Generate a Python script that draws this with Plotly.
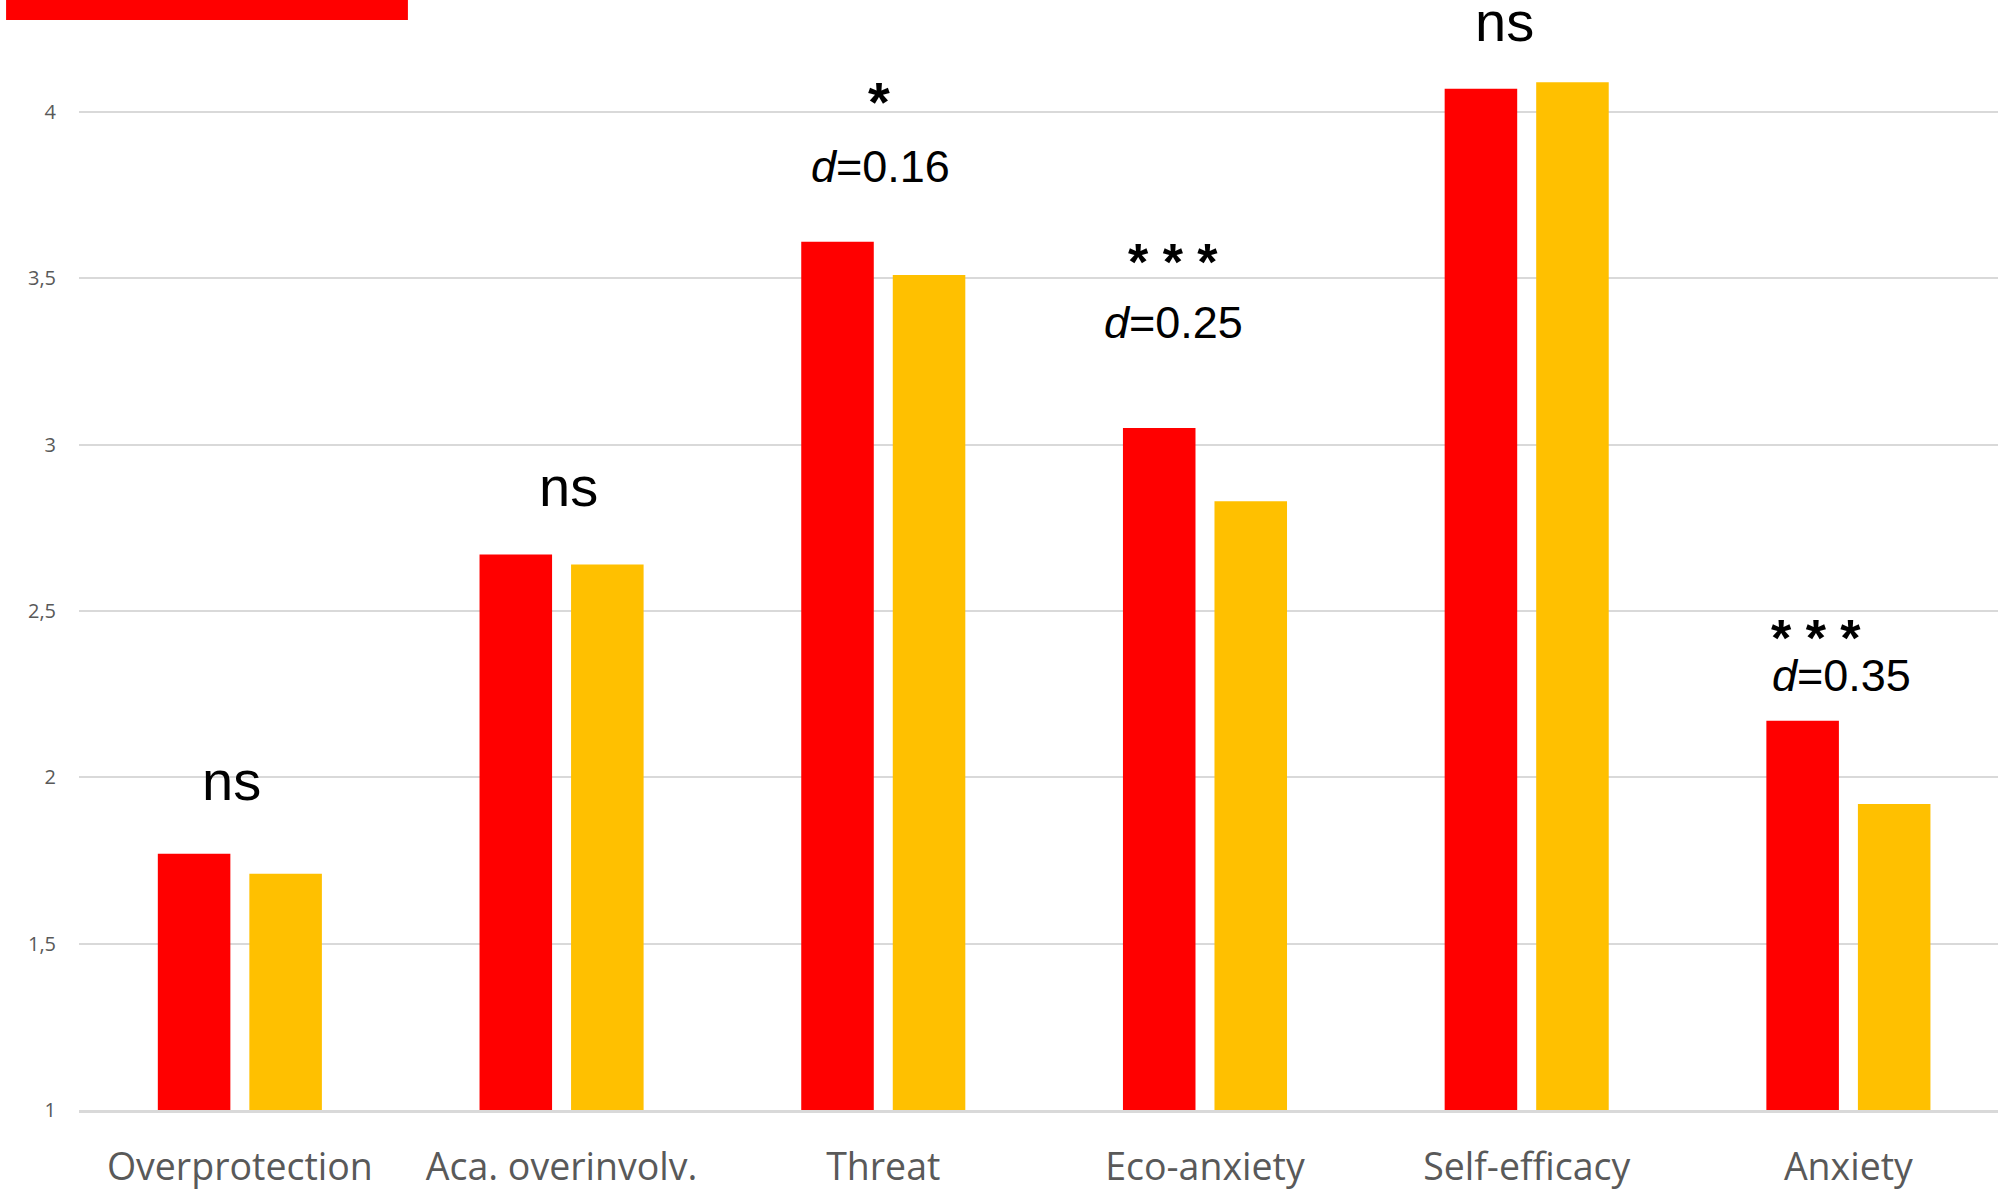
import plotly.graph_objects as go

categories = ["Overprotection", "Aca. overinvolv.", "Threat", "Eco-anxiety", "Self-efficacy", "Anxiety"]
group_a = [1.77, 2.67, 3.61, 3.05, 4.07, 2.17]
group_b = [1.71, 2.64, 3.51, 2.83, 4.09, 1.92]
y_ticks = [1, 1.5, 2, 2.5, 3, 3.5, 4]
y_tick_labels = ["1", "1,5", "2", "2,5", "3", "3,5", "4"]

# significance labels
sig_x = [-0.026, 1.023, 1.986, 2.90, 3.932, 4.899]
sig_y = [1.992, 2.873, 4.033, 3.550, 4.271, 2.419]
sig_text = ["ns", "ns", "*", "* * *", "ns", "* * *"]
d_x = [1.99, 2.903, 4.977]
d_y = [3.836, 3.366, 2.305]
d_text = ["<i>d</i>=0.16", "<i>d</i>=0.25", "<i>d</i>=0.35"]

xs = list(range(len(categories)))

fig = go.Figure()
fig.add_trace(go.Bar(x=xs, y=group_a, marker=dict(color="#FF0000", line=dict(width=0)),
                     width=0.2255, offset=-0.255, hoverinfo="skip"))
fig.add_trace(go.Bar(x=xs, y=group_b, marker=dict(color="#FFC000", line=dict(width=0)),
                     width=0.2255, offset=0.0295, hoverinfo="skip"))

ann_font = "Liberation Sans, Arial, Helvetica, sans-serif"
for x, y, t in zip(sig_x, sig_y, sig_text):
    if t == "ns":
        f = dict(family=ann_font, size=56, color="black")
    elif t == "*":
        f = dict(family=ann_font, size=56, color="black")
        t = "<b>" + t + "</b>"
    else:
        f = dict(family=ann_font, size=52, color="black")
        t = "<b>" + t + "</b>"
    fig.add_annotation(x=x, y=y, xref="x", yref="y", text=t, showarrow=False,
                       font=f, xanchor="center", yanchor="middle")
for x, y, t in zip(d_x, d_y, d_text):
    fig.add_annotation(x=x, y=y, xref="x", yref="y", text=t, showarrow=False,
                       font=dict(family=ann_font, size=45, color="black"),
                       xanchor="center", yanchor="middle")

# cut-off red block at top left
fig.add_shape(type="rect", xref="paper", yref="paper", x0=-0.038, x1=0.1714, y0=0.982, y1=1.0,
              fillcolor="#FF0000", line=dict(width=0), layer="above")

fig.update_layout(
    width=1998, height=1197,
    margin=dict(l=79, r=0, t=0, b=87),
    plot_bgcolor="white", paper_bgcolor="white",
    showlegend=False,
    barmode="overlay",
    xaxis=dict(range=[-0.5, 5.465], tickmode="array", tickvals=xs, ticktext=categories,
               tickfont=dict(family="Open Sans, sans-serif", size=37.5, color="#595959"),
               showgrid=False, zeroline=False, showline=True, linecolor="#d9d9d9", linewidth=3,
               ticks="", ticklabelstandoff=22),
    yaxis=dict(range=[1, 4.337], tickmode="array", tickvals=y_ticks, ticktext=y_tick_labels,
               tickfont=dict(family="Open Sans, sans-serif", size=20, color="#595959"),
               showgrid=True, gridcolor="#d9d9d9", gridwidth=2, zeroline=False, showline=False,
               ticks="", ticklabelstandoff=22),
)

fig.write_html("out.html", config={"displayModeBar": False},
               post_script="document.body.style.margin='0';document.body.style.padding='0';")
